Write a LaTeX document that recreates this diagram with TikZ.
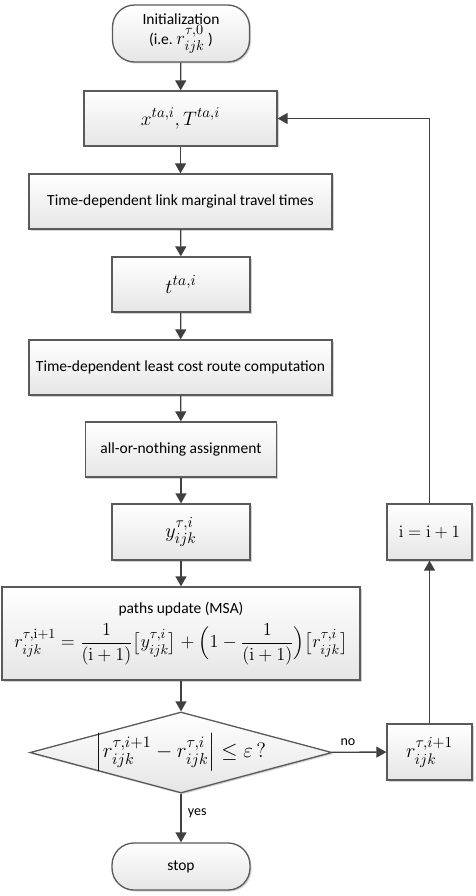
\documentclass[tikz,border=0pt]{standalone}
\usepackage{graphicx}
\usepackage{amsmath}
\usepackage[no-math]{fontspec}
\setmainfont{Carlito}
\usetikzlibrary{arrows.meta,shapes.geometric,shadows}
\definecolor{bordc}{HTML}{5A5A5A}
\definecolor{arrc}{HTML}{404040}
\definecolor{fbc}{HTML}{7A7A7A}
\newcommand{\sclmath}[2]{\scalebox{#1}{$#2$}}
\begin{document}
\begin{tikzpicture}[x=1pt,y=1pt,
  base/.style={draw=bordc, line width=1.3pt, top color=white, bottom color=black!10,
     inner sep=0pt, align=center, font=\fontsize{15.5}{18}\selectfont,
     drop shadow={shadow xshift=1.5pt, shadow yshift=-1.5pt, fill=black!35, opacity=0.5}},
  procbox/.style={base, rectangle},
  termbox/.style={base, rectangle, rounded corners=22pt},
  decbox/.style={base, diamond},
  flow/.style={draw=arrc, line width=1.3pt, -{Triangle[length=10pt,width=11pt]}},
  fback/.style={draw=fbc, line width=1.5pt, -{Triangle[length=10pt,width=11pt]}, arrc},
  lbl/.style={font=\fontsize{14}{16}\selectfont, text=black}
]
\useasboundingbox (0,0) rectangle (475,-896);
\fill[white] (0,0) rectangle (475,-896);

\node[termbox, minimum width=137pt, minimum height=57pt] (init) at (181,-33.5)
  {Initialization\\[0pt](i.e.\ \sclmath{1.3}{r_{ijk}^{\tau,0}}\ )};
\node[procbox, minimum width=193pt, minimum height=55pt] (xb) at (180.5,-118.5)
  {\sclmath{1.35}{x^{ta,i}, T^{ta,i}}};
\node[procbox, minimum width=303pt, minimum height=55pt] (link) at (180.5,-201.5)
  {Time-dependent link marginal travel times};
\node[procbox, minimum width=138pt, minimum height=55pt] (tb) at (181,-284.5)
  {\sclmath{1.4}{t^{ta,i}}};
\node[procbox, minimum width=303pt, minimum height=55pt] (lcr) at (180.5,-367.5)
  {Time-dependent least cost route computation};
\node[procbox, minimum width=191pt, minimum height=55pt] (aon) at (181,-449.5)
  {all-or-nothing assignment};
\node[procbox, minimum width=138pt, minimum height=56pt] (yb) at (181,-532)
  {\sclmath{1.4}{y_{ijk}^{\tau,i}}};
\node[procbox, minimum width=358pt, minimum height=93pt] (msa) at (181,-633.5)
  {paths update (MSA)\\[7pt]
   \sclmath{1.27}{r_{ijk}^{\tau,\mathrm{i}+1} = \dfrac{1}{(\mathrm{i}+1)}\bigl[y_{ijk}^{\tau,i}\bigr]+\Bigl(1-\dfrac{1}{(\mathrm{i}+1)}\Bigr)\bigl[r_{ijk}^{\tau,i}\bigr]}};
\node[decbox, minimum width=302pt, minimum height=81pt] (dec) at (181,-752.5)
  {\makebox[0pt]{\sclmath{1.45}{\left|r_{ijk}^{\tau,i+1}-r_{ijk}^{\tau,i}\right| \le \varepsilon\,?}}};
\node[procbox, minimum width=85pt, minimum height=56pt] (rb) at (429.5,-752)
  {\sclmath{1.4}{r_{ijk}^{\tau,i+1}}};
\node[procbox, minimum width=85pt, minimum height=56pt] (ib) at (429.5,-532)
  {\sclmath{1.2}{\mathrm{i}=\mathrm{i}+1}};
\node[termbox, minimum width=138pt, minimum height=47pt] (stop) at (181,-866.5)
  {stop};

\draw[flow] (init) -- (xb);
\draw[flow] (xb) -- (link);
\draw[flow] (link) -- (tb);
\draw[flow] (tb) -- (lcr);
\draw[flow] (lcr) -- (aon);
\draw[flow] (aon) -- (yb);
\draw[flow] (yb) -- (msa);
\draw[flow] (msa) -- (dec);
\draw[flow] (dec) -- node[lbl, right=3pt, pos=0.4] {yes} (stop);
\draw[flow] (dec) -- node[lbl, above=3pt, pos=0.3] {no} (rb);
\draw[fback] (rb) -- (ib);
\draw[fback] (ib.north) |- (xb.east);
\end{tikzpicture}
\end{document}
